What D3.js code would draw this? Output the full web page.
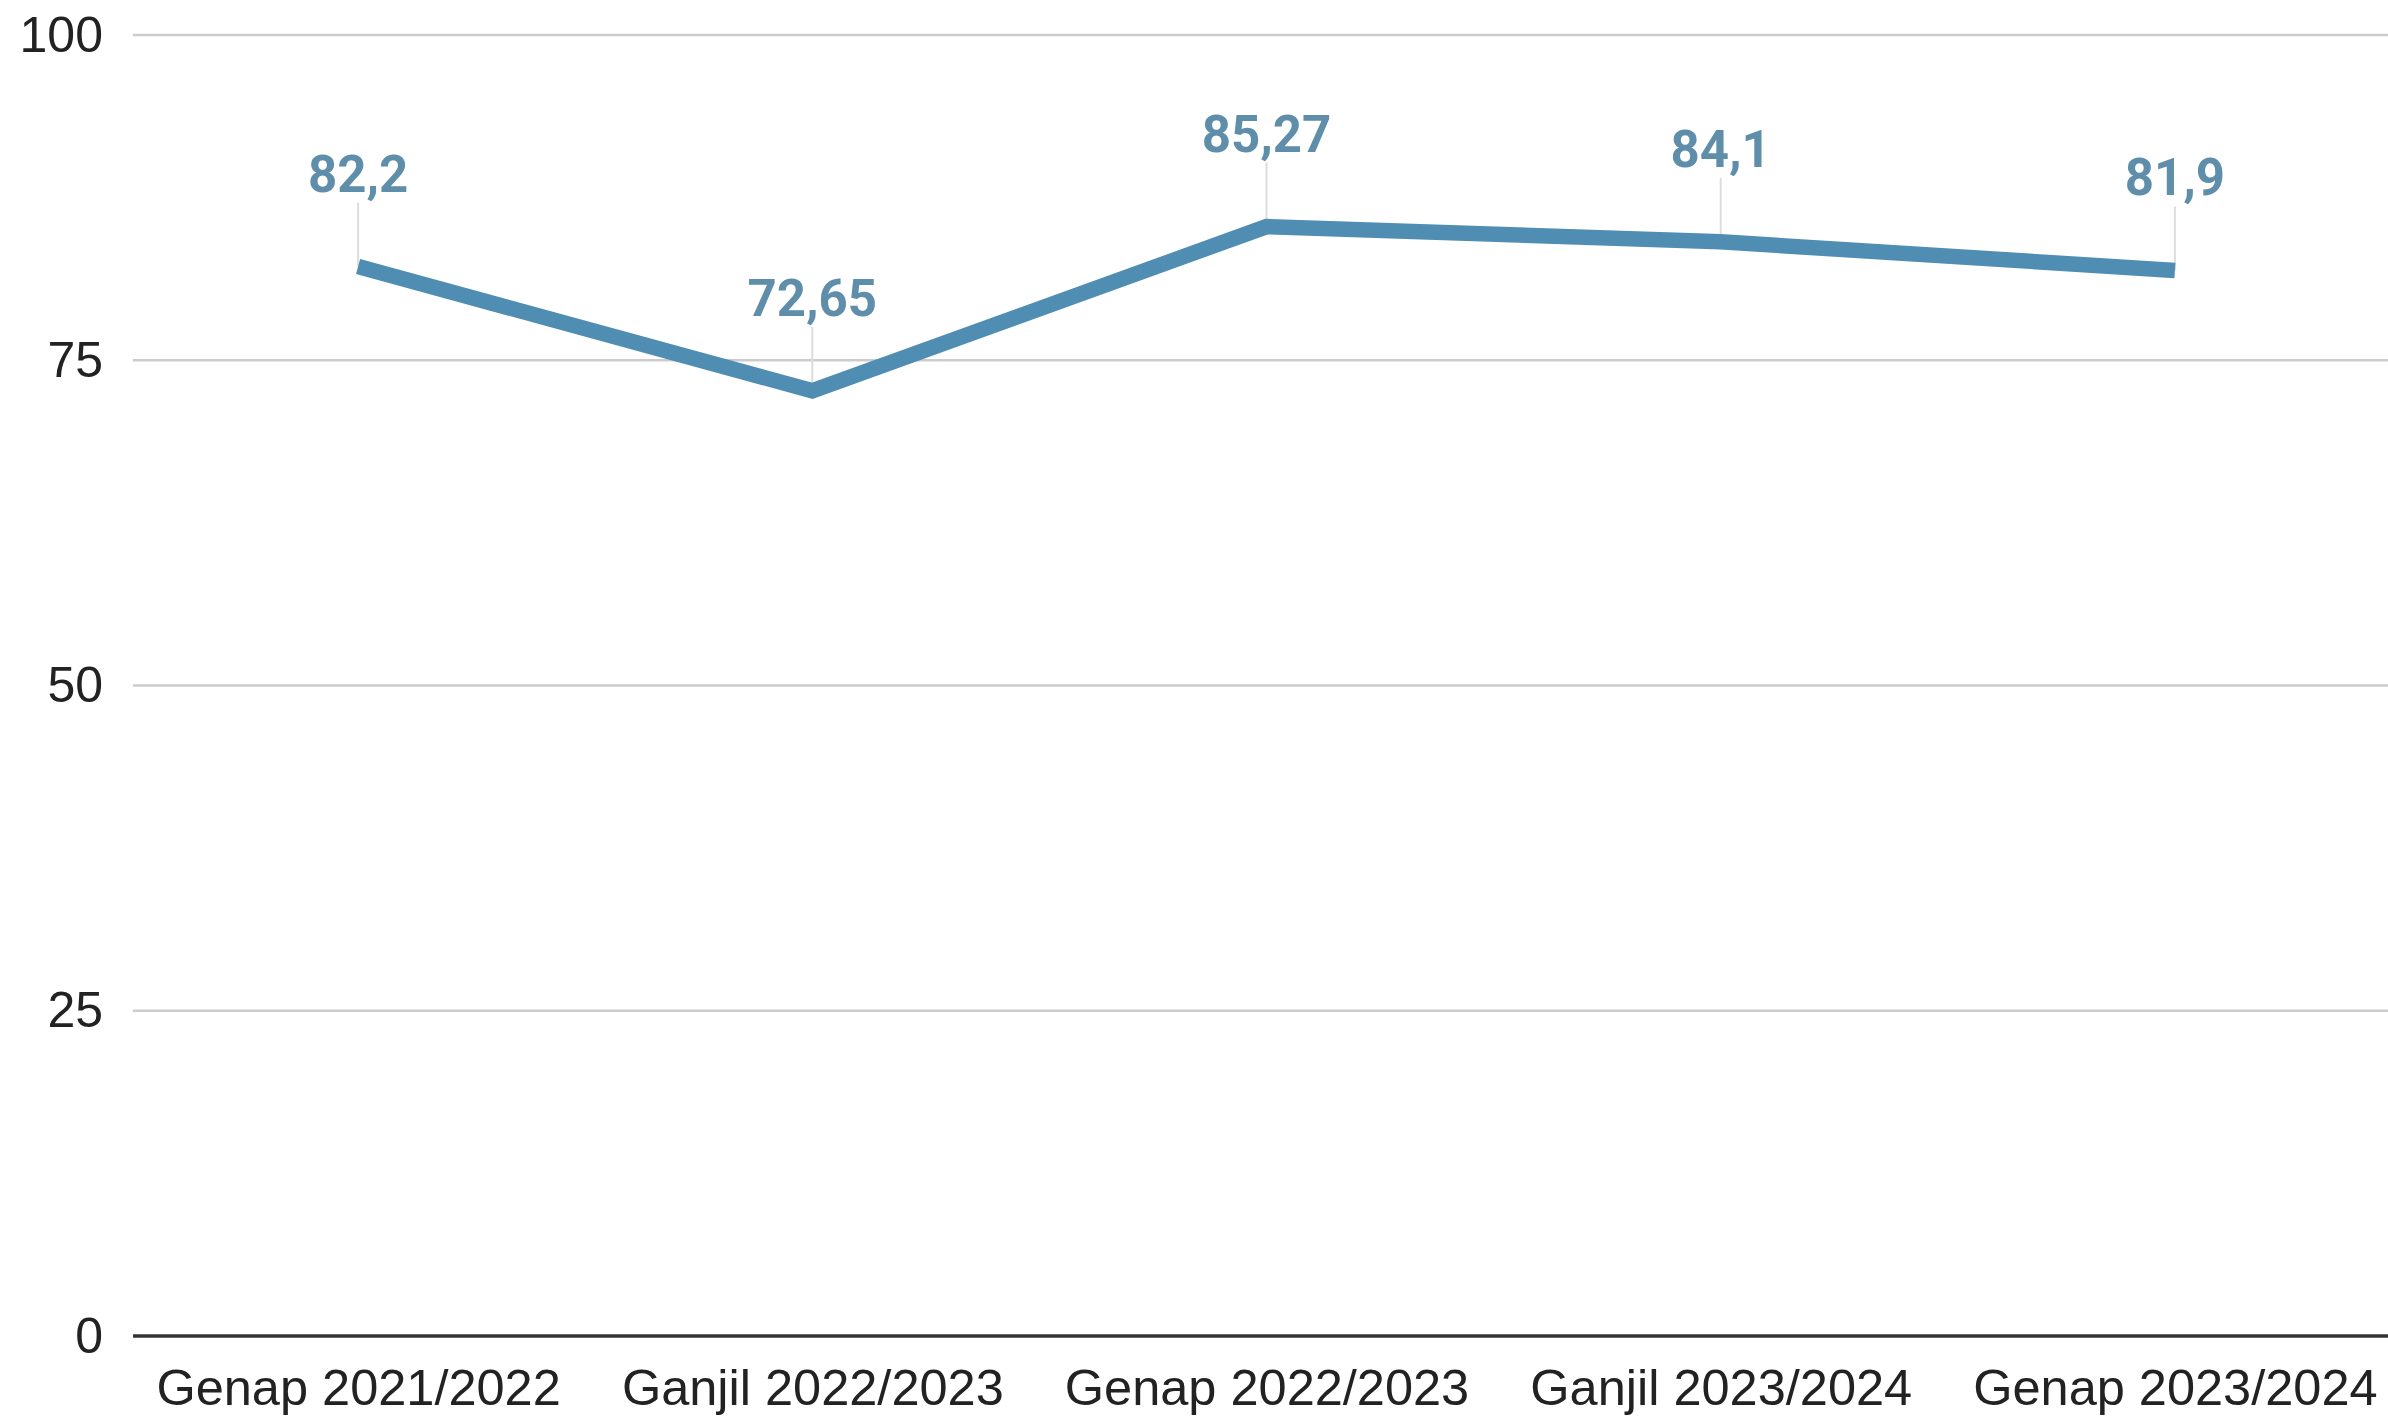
<!DOCTYPE html>
<html><head><meta charset="utf-8">
<script src="https://cdn.jsdelivr.net/npm/d3@7"></script>
<style>html,body{margin:0;padding:0;background:#fff;overflow:hidden}</style>
</head><body>
<svg id="c" width="2388" height="1417"></svg>
<script>
const categories = ["Genap 2021/2022","Ganjil 2022/2023","Genap 2022/2023","Ganjil 2023/2024","Genap 2023/2024"];
const values = [82.2, 72.65, 85.27, 84.1, 81.9];
const valueLabels = ["82,2","72,65","85,27","84,1","81,9"];
const yTicks = [0, 25, 50, 75, 100];

(function(){
const svg = d3.select("#c");
const mLeft = 133, mRight = 2388, mTop = 35, mBottom = 1336;
const x = d3.scalePoint().domain(categories).range([131, 2402]).padding(0.5);
const y = d3.scaleLinear().domain([0, 100]).range([mBottom, mTop]);

// gridlines
svg.append("g").selectAll("line").data(yTicks.filter(d => d > 0)).join("line")
  .attr("x1", mLeft).attr("x2", mRight)
  .attr("y1", d => y(d)).attr("y2", d => y(d))
  .attr("stroke", "#cccccc").attr("stroke-width", 2.5);

// y axis labels
const yAxis = svg.append("g").attr("transform", `translate(${mLeft},0)`)
  .call(d3.axisLeft(y).tickValues(yTicks).tickSize(0).tickPadding(30).tickFormat(d3.format("d")));
yAxis.select(".domain").remove();
yAxis.selectAll("text").attr("font-family", "'Liberation Sans', Arial, sans-serif")
  .attr("font-size", 50).attr("fill", "#222");

// baseline
svg.append("line").attr("x1", mLeft).attr("x2", mRight).attr("y1", y(0)).attr("y2", y(0))
  .attr("stroke", "#333").attr("stroke-width", 3.5);

// x axis labels
const xAxis = svg.append("g").attr("transform", `translate(0,${y(0)})`)
  .call(d3.axisBottom(x).tickSize(0).tickPadding(33));
xAxis.select(".domain").remove();
xAxis.selectAll("text").attr("font-family", "'Liberation Sans', Arial, sans-serif")
  .attr("font-size", 50.5).attr("fill", "#222");

const data = categories.map((c, i) => ({c, v: values[i], l: valueLabels[i]}));

// leader lines
svg.append("g").selectAll("line").data(data).join("line")
  .attr("x1", d => x(d.c)).attr("x2", d => x(d.c))
  .attr("y1", d => y(d.v)).attr("y2", d => y(d.v) - 64)
  .attr("stroke", "#dddddd").attr("stroke-width", 2);

// line
svg.append("path").datum(data)
  .attr("d", d3.line().x(d => x(d.c)).y(d => y(d.v)))
  .attr("fill", "none").attr("stroke", "#4f8db2").attr("stroke-width", 15.5)
  .attr("stroke-linejoin", "miter");

// value labels
svg.append("g").selectAll("text").data(data).join("text")
  .attr("x", d => x(d.c)).attr("y", d => y(d.v) - 75)
  .attr("text-anchor", "middle")
  .attr("font-family", "Roboto, sans-serif").attr("font-weight", "bold")
  .attr("font-size", 51).attr("fill", "#5e8ea9")
  .text(d => d.l);
})();
</script>
</body></html>
